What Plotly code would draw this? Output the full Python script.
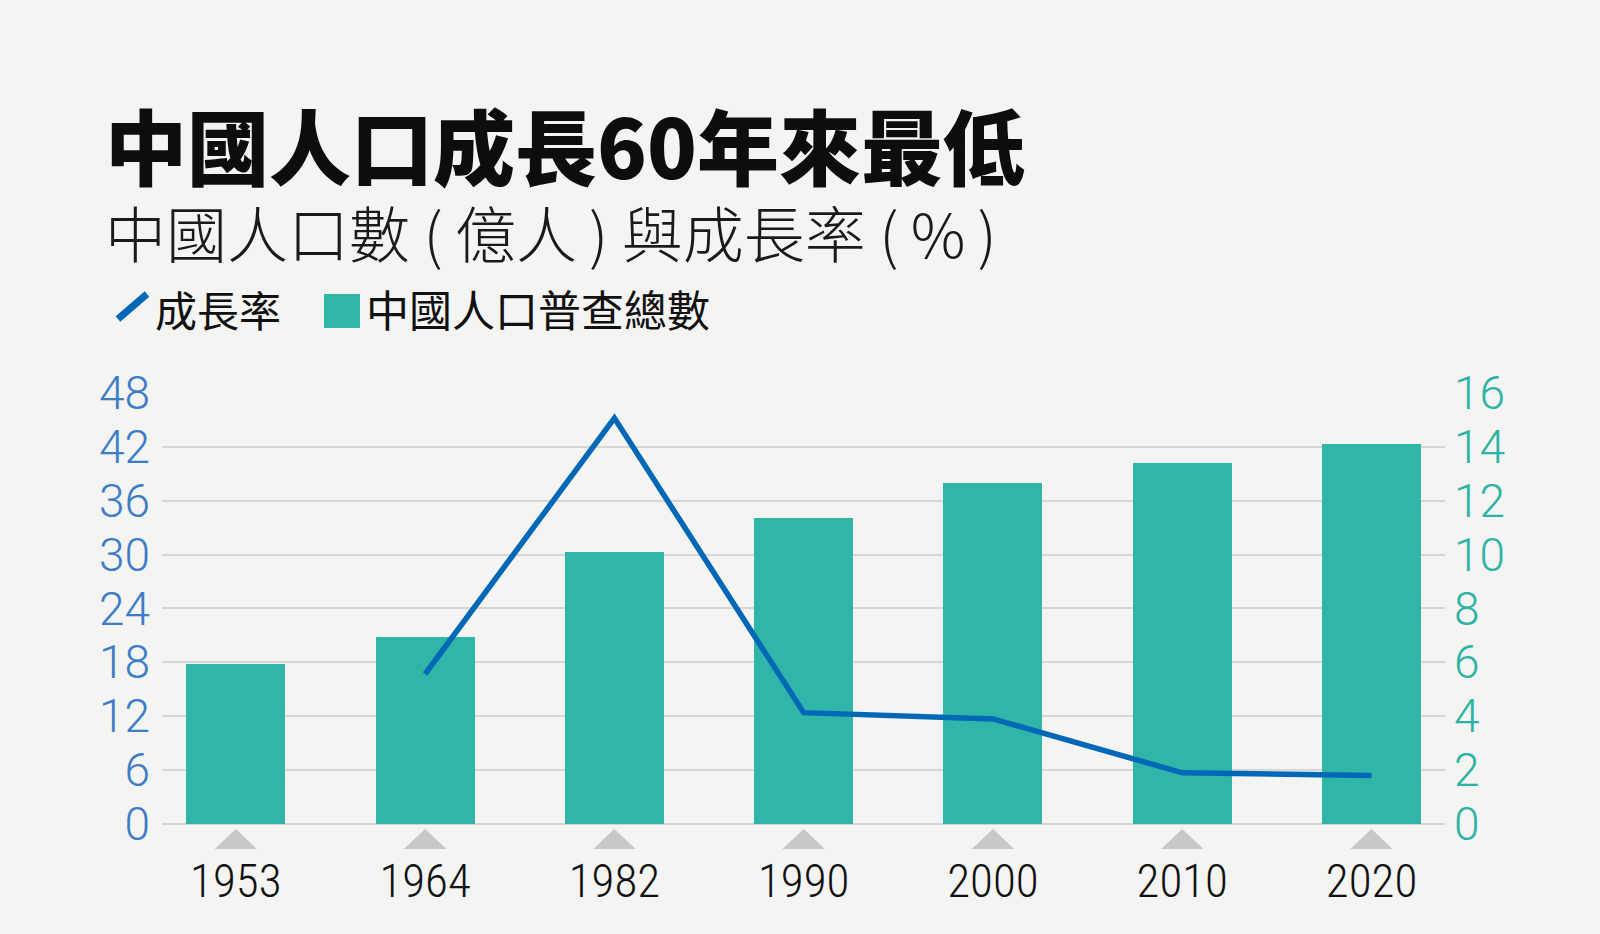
import plotly.graph_objects as go

# ---- data ----
years = ["1953", "1964", "1982", "1990", "2000", "2010", "2020"]
population = [5.94, 6.95, 10.08, 11.34, 12.66, 13.40, 14.12]   # 億人 (right axis)
growth = [None, 16.7, 45.2, 12.4, 11.7, 5.7, 5.4]              # % (left axis)
left_ticks = [0, 6, 12, 18, 24, 30, 36, 42, 48]
right_ticks = [0, 2, 4, 6, 8, 10, 12, 14, 16]

title_text = "中國人口成長60年來最低"
subtitle_text = "中國人口數 (\u2009億人\u2009) 與成長率 (\u2009%\u2009)"
legend_line = "成長率"
legend_bar = "中國人口普查總數"

# ---- style ----
BG = "#f4f4f2"
TEAL = "#30b6a9"
TEAL_TXT = "#2db3a6"
BLUE = "#0068b7"
BLUE_TXT = "#3d7dc6"
GRID = "#d6d6d4"
TRI = "#c8c8c8"
CJK = "Noto Sans CJK TC, Noto Sans CJK SC, sans-serif"
NUM = "Roboto, Liberation Sans, sans-serif"
NARROW = "Roboto Condensed, DejaVu Sans Condensed, Roboto, sans-serif"

W, H = 1600, 934
L, R, T, B = 162, 155, 392, 110
pw, ph = W - L - R, H - T - B


def px(x):
    return (x - L) / pw


def py(y):
    return (H - B - y) / ph


xpos = list(range(len(years)))
ymax_left = 48.1

fig = go.Figure()
fig.add_bar(x=xpos, y=population, yaxis="y", width=0.523,
            marker=dict(color=TEAL, line=dict(width=0)), showlegend=False)
fig.add_scatter(x=xpos, y=growth, yaxis="y2", mode="lines",
                line=dict(color=BLUE, width=5.5), showlegend=False, connectgaps=False)

shapes = []
for xv in xpos:
    shapes.append(dict(type="path", xref="x", yref="paper",
                       path=f"M {xv-0.112},{py(849)} L {xv+0.112},{py(849)} L {xv},{py(829)} Z",
                       fillcolor=TRI, line=dict(width=0), layer="above"))
shapes.append(dict(type="line", xref="paper", yref="paper",
                   x0=px(118), y0=py(319), x1=px(147), y1=py(294),
                   line=dict(color=BLUE, width=7)))
shapes.append(dict(type="rect", xref="paper", yref="paper",
                   x0=px(324), y0=py(328), x1=px(360), y1=py(294),
                   fillcolor=TEAL, line=dict(width=0)))

annotations = [
    dict(text=title_text, xref="paper", yref="paper", x=px(103), y=py(144),
         xanchor="left", yanchor="middle", showarrow=False,
         font=dict(family=CJK, size=82, color="#0d0d0d", weight=900)),
    dict(text=subtitle_text, xref="paper", yref="paper", x=px(103), y=py(232),
         xanchor="left", yanchor="middle", showarrow=False,
         font=dict(family=CJK, size=61, color="#1a1a1a", weight=300)),
    dict(text=legend_line, xref="paper", yref="paper", x=px(153), y=py(308),
         xanchor="left", yanchor="middle", showarrow=False,
         font=dict(family=CJK, size=42, color="#111111")),
    dict(text=legend_bar, xref="paper", yref="paper", x=px(364), y=py(308),
         xanchor="left", yanchor="middle", showarrow=False,
         font=dict(family=CJK, size=43, color="#111111")),
]

fig.update_layout(
    width=W, height=H,
    margin=dict(l=L, r=R, t=T, b=B, pad=0),
    paper_bgcolor=BG, plot_bgcolor=BG,
    showlegend=False,
    bargap=0,
    xaxis=dict(range=[-0.39, 6.388], tickmode="array", tickvals=xpos, ticktext=years,
               showgrid=False, zeroline=False, showline=False, ticks="",
               ticklabelstandoff=25,
               tickfont=dict(family=NARROW, size=47, color="#111111", weight=300)),
    yaxis=dict(side="right", range=[0, ymax_left / 3], tickmode="array", tickvals=right_ticks,
               showgrid=True, gridcolor=GRID, gridwidth=1.5,
               zeroline=True, zerolinecolor=GRID, zerolinewidth=1.5,
               showline=False, ticks="", ticklabelstandoff=8,
               tickfont=dict(family=NUM, size=46, color=TEAL_TXT, weight=300)),
    yaxis2=dict(side="left", overlaying="y", range=[0, ymax_left], tickmode="array",
                tickvals=left_ticks, showgrid=False, zeroline=False, showline=False,
                ticks="", ticklabelstandoff=11,
                tickfont=dict(family=NUM, size=46, color=BLUE_TXT, weight=300)),
    shapes=shapes,
    annotations=annotations,
)

fig.write_html("out.html", config={"displayModeBar": False},
               post_script="document.body.style.margin='0';document.body.style.background='%s';" % BG)
